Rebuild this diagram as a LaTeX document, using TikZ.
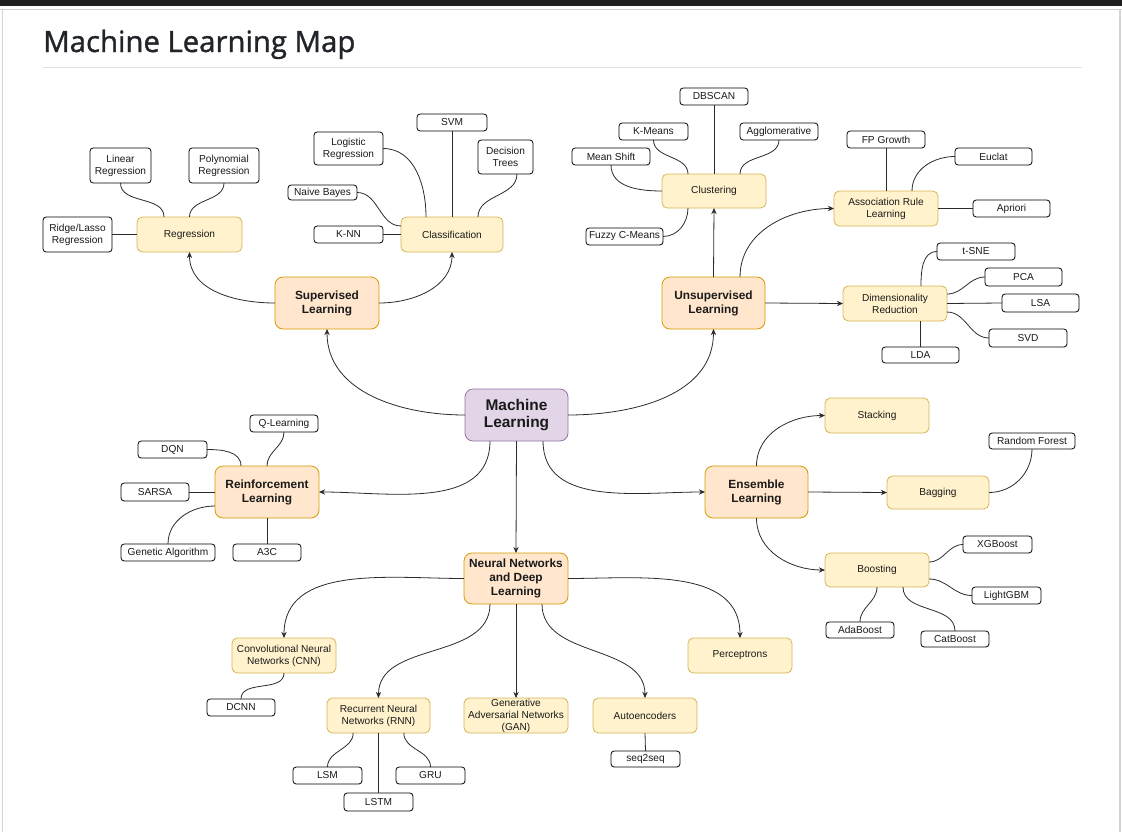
\documentclass[tikz,border=0pt]{standalone}
\usepackage{fontspec}
\setmainfont{Liberation Sans}
\IfFontExistsTF{Open Sans SemiBold}
  {\newfontfamily\titlefont{Open Sans SemiBold}}
  {\newfontfamily\titlefont{Open Sans}[FakeBold=1.2]}
\usetikzlibrary{arrows.meta,calc}

\definecolor{barc}{HTML}{1F1F1F}
\definecolor{edgec}{HTML}{D4D4D4}
\definecolor{rulec}{HTML}{DEE2E6}
\definecolor{titlec}{HTML}{212529}
\definecolor{purF}{HTML}{E1D5E7}
\definecolor{purD}{HTML}{9673A6}
\definecolor{orgF}{HTML}{FFE6CC}
\definecolor{orgD}{HTML}{D79B00}
\definecolor{ylwF}{HTML}{FFF2CC}
\definecolor{ylwD}{HTML}{D6B656}
\definecolor{txt}{HTML}{1A1A1A}
\definecolor{lnk}{HTML}{2B2B2B}

% box placed by its corners (x1,y1)-(x2,y2), y measured downwards
\newcommand\mapnode[7]{%
  \node[#1, minimum width={(#5-#3)*0.75pt}, minimum height={(#6-#4)*0.75pt}]
    (#2) at ({(#3+#5)/2},{-(#4+#6)/2}) {#7};}

\tikzset{
  base/.style={inner sep=0pt, outer sep=0pt, line width=0.6pt, align=center, text=txt},
  leaf/.style={base, draw=black, fill=white, rounded corners=2.4pt,
    font=\fontsize{7.6}{9}\selectfont},
  sub/.style={base, draw=ylwD, fill=ylwF, rounded corners=4pt,
    font=\fontsize{7.6}{9}\selectfont},
  branch/.style={base, draw=orgD, fill=orgF, rounded corners=6pt,
    font=\bfseries\fontsize{8.9}{10.5}\selectfont},
  root/.style={base, draw=purD, fill=purF, rounded corners=6pt,
    font=\bfseries\fontsize{11.6}{13.3}\selectfont},
  link/.style={draw=lnk, line width=0.6pt},
  arr/.style={link, -{Stealth[length=4.6pt,width=4pt]}},
}

\begin{document}
\begin{tikzpicture}[x=0.75pt,y=0.75pt]
\useasboundingbox (0,0) rectangle (1122,-832);

% page frame
\fill[barc] (0,0) rectangle (1122,-5.5);
\draw[edgec, line width=1pt] (0,-9.5) -- (1122,-9.5);
\draw[edgec, line width=1pt] (2.5,-9.5) -- (2.5,-832);
\draw[edgec, line width=1pt] (1120,-9.5) -- (1120,-832);
\node[anchor=base west, inner sep=0pt, text=titlec] (title) at (43,-52)
  {\titlefont\fontsize{22}{26}\selectfont Machine Learning Map};
\draw[rulec, line width=0.75pt] (43,-67.5) -- (1082,-67.5);

% main branches
\mapnode{root}{ml}{465}{389}{568}{441}{Machine\\Learning}
\mapnode{branch}{sup}{275}{277}{379}{329}{Supervised\\Learning}
\mapnode{branch}{uns}{662}{277}{765}{329}{Unsupervised\\Learning}
\mapnode{branch}{rl}{215}{466}{319}{518}{Reinforcement\\Learning}
\mapnode{branch}{ens}{705}{466}{808}{518}{Ensemble\\Learning}
\mapnode{branch}{nn}{464}{553}{568}{604}{Neural Networks\\and Deep\\Learning}

% sub-topics
\mapnode{sub}{reg}{137}{217}{242}{252}{Regression}
\mapnode{sub}{cls}{401}{217}{503}{252}{Classification}
\mapnode{sub}{clu}{662}{174}{766}{208}{Clustering}
\mapnode{sub}{arl}{834}{191}{938}{226}{Association Rule\\Learning}
\mapnode{sub}{dr}{843}{286}{947}{321}{Dimensionality\\Reduction}
\mapnode{sub}{stk}{825}{398}{929}{433}{Stacking}
\mapnode{sub}{bag}{887}{476}{989}{509}{Bagging}
\mapnode{sub}{bst}{825}{553}{929}{587}{Boosting}
\mapnode{sub}{cnn}{232}{638}{336}{673}{Convolutional Neural\\Networks (CNN)}
\mapnode{sub}{rnn}{327}{698}{430}{733}{Recurrent Neural\\Networks (RNN)}
\mapnode{sub}{gan}{464}{698}{568}{733}{Generative\\Adversarial Networks\\(GAN)}
\mapnode{sub}{ae}{593}{698}{697}{733}{Autoencoders}
\mapnode{sub}{per}{688}{638}{792}{673}{Perceptrons}

% leaves
\mapnode{leaf}{lin}{90}{148}{151}{183}{Linear\\Regression}
\mapnode{leaf}{poly}{189}{148}{259}{183}{Polynomial\\Regression}
\mapnode{leaf}{ridge}{43}{217}{112}{252}{Ridge/Lasso\\Regression}
\mapnode{leaf}{logi}{314}{132}{383}{165}{Logistic\\Regression}
\mapnode{leaf}{svm}{417}{114}{487}{131}{SVM}
\mapnode{leaf}{dt}{478}{140}{533}{174}{Decision\\Trees}
\mapnode{leaf}{nb}{288}{185}{357}{200}{Naive Bayes}
\mapnode{leaf}{knn}{314}{226}{383}{243}{K-NN}
\mapnode{leaf}{dbs}{680}{88}{748}{105}{DBSCAN}
\mapnode{leaf}{km}{619}{123}{688}{140}{K-Means}
\mapnode{leaf}{agg}{740}{123}{818}{140}{Agglomerative}
\mapnode{leaf}{ms}{572}{148}{650}{165}{Mean Shift}
\mapnode{leaf}{fcm}{586}{228}{663}{245}{Fuzzy C-Means}
\mapnode{leaf}{fpg}{847}{131}{925}{148}{FP Growth}
\mapnode{leaf}{ecl}{955}{148}{1032}{165}{Euclat}
\mapnode{leaf}{apr}{973}{200}{1050}{217}{Apriori}
\mapnode{leaf}{tsne}{937}{243}{1015}{260}{t-SNE}
\mapnode{leaf}{pca}{985}{268}{1062}{286}{PCA}
\mapnode{leaf}{lsa}{1002}{294}{1079}{312}{LSA}
\mapnode{leaf}{svd}{989}{329}{1067}{347}{SVD}
\mapnode{leaf}{lda}{882}{347}{959}{363}{LDA}
\mapnode{leaf}{ql}{250}{415}{318}{432}{Q-Learning}
\mapnode{leaf}{dqn}{138}{441}{207}{458}{DQN}
\mapnode{leaf}{sarsa}{121}{483}{189}{501}{SARSA}
\mapnode{leaf}{ga}{121}{544}{215}{561}{Genetic Algorithm}
\mapnode{leaf}{a3c}{233}{544}{301}{561}{A3C}
\mapnode{leaf}{rf}{989}{433}{1075}{449}{Random Forest}
\mapnode{leaf}{xgb}{963}{536}{1032}{553}{XGBoost}
\mapnode{leaf}{lgbm}{972}{587}{1041}{604}{LightGBM}
\mapnode{leaf}{ada}{826}{622}{894}{638}{AdaBoost}
\mapnode{leaf}{cat}{921}{631}{989}{647}{CatBoost}
\mapnode{leaf}{dcnn}{207}{699}{275}{716}{DCNN}
\mapnode{leaf}{lsm}{293}{767}{362}{784}{LSM}
\mapnode{leaf}{gru}{396}{767}{465}{784}{GRU}
\mapnode{leaf}{lstm}{344}{793}{413}{811}{LSTM}
\mapnode{leaf}{s2s}{611}{751}{680}{767}{seq2seq}

% arrows out of the root
\draw[arr] (ml.west) to[out=180,in=-90] (sup.south);
\draw[arr] (ml.east) to[out=0,in=-90] (uns.south);
\draw[arr] ([xshift=-19.9pt]ml.south) to[out=-90,in=0] (rl.east);
\draw[arr] ([xshift=19.9pt]ml.south) to[out=-90,in=180] (ens.west);
\draw[arr] (ml.south) -- (nn.north);

% supervised
\draw[arr] (sup.west) to[out=180,in=-90] (reg.south);
\draw[arr] (sup.east) to[out=0,in=-90] (cls.south);
\draw[link] (lin.south) to[out=-90,in=90] ([xshift=-19.1pt]reg.north);
\draw[link] (poly.south) to[out=-90,in=90] (reg.north);
\draw[link] (ridge.east) -- (reg.west);
\draw[link] (logi.east) to[out=0,in=90] ([xshift=-19.5pt]cls.north);
\draw[link] (svm.south) -- (cls.north);
\draw[link] ([xshift=8.6pt]dt.south) to[out=-90,in=90] ([xshift=19.5pt]cls.north);
\draw[link] (nb.east) to[out=0,in=180] ([yshift=6.4pt]cls.west);
\draw[link] (knn.east) -- (cls.west);

% unsupervised
\draw[arr] (uns.north) -- (clu.south);
\draw[arr] ([xshift=19.9pt]uns.north) to[out=90,in=180] (arl.west);
\draw[arr] (uns.east) -- (dr.west);
\draw[link] (dbs.south) -- (clu.north);
\draw[link] (km.south) to[out=-90,in=90] ([xshift=-19.5pt]clu.north);
\draw[link] (agg.south) to[out=-90,in=90] ([xshift=19.5pt]clu.north);
\draw[link] (ms.south) to[out=-90,in=180] (clu.west);
\draw[link] (fcm.east) to[out=0,in=-90] ([xshift=-19.5pt]clu.south);
\draw[link] (fpg.south) -- (arl.north);
\draw[link] (ecl.west) to[out=180,in=90] ([xshift=19.5pt]arl.north);
\draw[link] (apr.west) -- (arl.east);
\draw[link] (tsne.west) to[out=180,in=90] ([xshift=19.5pt]dr.north);
\draw[link] (pca.west) to[out=180,in=0] ([yshift=7.1pt]dr.east);
\draw[link] (lsa.west) -- (dr.east);
\draw[link] (svd.west) to[out=180,in=0] ([yshift=-6.4pt]dr.east);
\draw[link] (lda.north) -- (lda.north |- dr.south);

% reinforcement
\draw[link] (ql.south) to[out=-90,in=90] (rl.north);
\draw[link] (dqn.east) to[out=0,in=90] ([xshift=-19.5pt]rl.north);
\draw[link] (sarsa.east) -- (rl.west);
\draw[link] (ga.north) to[out=90,in=180] ([yshift=-10.5pt]rl.west);
\draw[link] (a3c.north) -- (rl.south);

% ensemble
\draw[arr] (ens.north) to[out=90,in=180] (stk.west);
\draw[arr] (ens.east) -- (bag.west);
\draw[arr] (ens.south) to[out=-90,in=180] (bst.west);
\draw[link] (bag.east) to[out=0,in=-90] (rf.south);
\draw[link] ([yshift=6pt]bst.east) to[out=0,in=180] (xgb.west);
\draw[link] ([yshift=-6.75pt]bst.east) to[out=0,in=180] (lgbm.west);
\draw[link] (bst.south) to[out=-90,in=90] (ada.north);
\draw[link] ([xshift=19.5pt]bst.south) to[out=-90,in=90] (cat.north);

% neural networks
\draw[arr] (nn.west) to[out=180,in=90] (cnn.north);
\draw[arr] ([xshift=-19.5pt]nn.south) to[out=-90,in=90] (rnn.north);
\draw[arr] (nn.south) -- (gan.north);
\draw[arr] ([xshift=19.5pt]nn.south) to[out=-90,in=90] (ae.north);
\draw[arr] (nn.east) to[out=0,in=90] (per.north);
\draw[link] (cnn.south) to[out=-90,in=90] (dcnn.north);
\draw[link] ([xshift=-19pt]rnn.south) to[out=-90,in=90] (lsm.north);
\draw[link] (rnn.south) -- (lstm.north);
\draw[link] ([xshift=19pt]rnn.south) to[out=-90,in=90] (gru.north);
\draw[link] (ae.south) -- (s2s.north);
\end{tikzpicture}
\end{document}
